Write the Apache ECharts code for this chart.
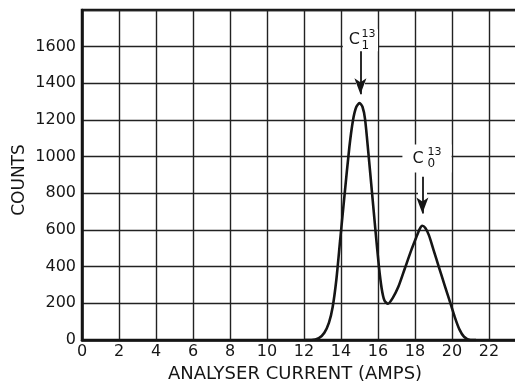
<!DOCTYPE html>
<html><head><meta charset="utf-8">
<script src="https://cdn.jsdelivr.net/npm/echarts@6/dist/echarts.min.js"></script>
<style>html,body{margin:0;padding:0;background:#fff}#c{width:515px;height:383px}</style>
</head><body><div id="c"></div>
<script>
// ---- data ----
const currentAmps = [12.0, 12.4, 12.8, 13.1, 13.35, 13.55, 13.75, 13.95, 14.2, 14.45, 14.65, 14.82, 15.0, 15.16, 15.3, 15.48, 15.68, 15.87, 16.05, 16.2, 16.35, 16.54, 16.8, 17.1, 17.45, 17.8, 18.05, 18.25, 18.39, 18.55, 18.75, 19.0, 19.3, 19.62, 19.9, 20.15, 20.4, 20.65, 21.0, 21.3];
const counts      = [0, 0, 10, 40, 95, 180, 330, 540, 800, 1050, 1200, 1270, 1292, 1272, 1205, 1020, 800, 590, 400, 280, 215, 198, 230, 290, 390, 490, 555, 605, 623, 612, 572, 492, 395, 293, 205, 125, 58, 18, 0, 0];
const xTickLabels = [0, 2, 4, 6, 8, 10, 12, 14, 16, 18, 20, 22];
const yTickLabels = [0, 200, 400, 600, 800, 1000, 1200, 1400, 1600];
const peakSub    = ['1', '0'];
const peakX      = [15.05, 18.4];
const peakLabelY = [1635, 990];
const arrowTop   = [1580, 890];
const arrowTip   = [1340, 690];
const xTitle = 'ANALYSER CURRENT (AMPS)';
const yTitle = 'COUNTS';

const INK = '#151515';
const FONT = 'DejaVu Sans';
const cOffsets  = [0, 4.6];
const supOffsets = [1, 5];
const boxPads = [[3, 18, 3, 6], [7, 28, 5, 10]];

const points = currentAmps.map((x, i) => [x, counts[i]]);

const labelPoints = [];
peakX.forEach((x, i) => {
  labelPoints.push({
    coord: [x, peakLabelY[i]],
    label: {
      show: true, position: 'inside', offset: [cOffsets[i], 0], formatter: 'C',
      color: INK, fontFamily: FONT, fontSize: 16,
      backgroundColor: '#fff', padding: boxPads[i]
    }
  });
  labelPoints.push({
    coord: [x, peakLabelY[i]],
    label: {
      show: true, position: 'inside', offset: [supOffsets[i], 0],
      formatter: '{s|13}\n{b|' + peakSub[i] + '}',
      align: 'left', color: INK, fontFamily: FONT,
      rich: {
        s: { fontSize: 11, lineHeight: 11, fontFamily: FONT, color: INK },
        b: { fontSize: 12, lineHeight: 12, fontFamily: FONT, color: INK }
      }
    }
  });
});

const arrowLines = peakX.map((x, i) => [{ coord: [x, arrowTop[i]] }, { coord: [x, arrowTip[i]] }]);

const chart = echarts.init(document.getElementById('c'), null, { renderer: 'canvas' });
chart.setOption({
  animation: false,
  backgroundColor: '#fff',
  grid: { left: 82, right: -11, top: 10, bottom: 43, show: true, borderColor: INK, borderWidth: 2.5, outerBoundsMode: 'none', containLabel: false },
  xAxis: {
    type: 'value', min: 0, max: 24, interval: 2,
    name: xTitle, nameLocation: 'middle', nameGap: 18,
    nameTextStyle: { color: INK, fontFamily: FONT, fontSize: 18, padding: [0, 18, 0, 0] },
    axisLine: { show: true, lineStyle: { color: INK, width: 2.5 } },
    axisTick: { show: false },
    axisLabel: { color: INK, fontFamily: FONT, fontSize: 16, margin: 4,
      formatter: v => xTickLabels.includes(v) ? String(v) : '' },
    splitLine: { show: true, lineStyle: { color: '#222', width: 1.4 } }
  },
  yAxis: {
    type: 'value', min: 0, max: 1800, interval: 200,
    name: yTitle, nameLocation: 'middle', nameGap: 62, nameRotate: 90, nameMoveOverlap: false,
    nameTextStyle: { color: INK, fontFamily: FONT, fontSize: 17, verticalAlign: 'middle', padding: [0, 0, 0, -10] },
    axisLine: { show: true, lineStyle: { color: INK, width: 2.5 } },
    axisTick: { show: false },
    axisLabel: { color: INK, fontFamily: FONT, fontSize: 16, margin: 6,
      formatter: v => yTickLabels.includes(v) ? String(v) : '' },
    splitLine: { show: true, lineStyle: { color: '#222', width: 1.4 } }
  },
  series: [
    {
      type: 'line', data: [], silent: true, z: 2,
      markLine: {
        silent: true, symbol: ['none', 'none'], animation: false,
        label: { show: false },
        lineStyle: { color: '#fff', width: 9, type: 'solid' },
        data: arrowLines
      }
    },
    {
      type: 'line', data: points, smooth: 0.25, showSymbol: false, z: 3,
      lineStyle: { color: INK, width: 2.6 },
      markLine: {
        silent: true, symbol: ['none', 'arrow'], symbolSize: [9, 16], animation: false,
        label: { show: false },
        lineStyle: { color: INK, width: 1.8, type: 'solid' },
        data: arrowLines
      },
      markPoint: {
        silent: true, symbol: 'circle', symbolSize: 1, itemStyle: { color: 'rgba(0,0,0,0)' },
        data: labelPoints
      }
    }
  ]
});
</script>
</body></html>
